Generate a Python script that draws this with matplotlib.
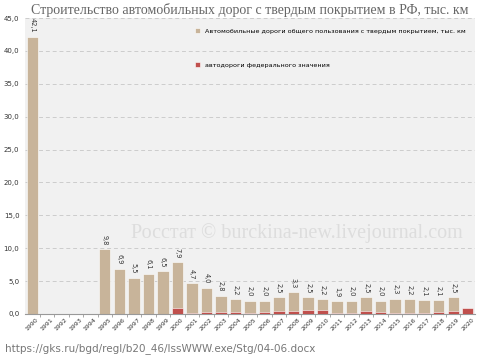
import matplotlib.pyplot as plt
import numpy as np

years = [str(y) for y in range(1990, 2021)]
# total hard-surface public roads built, thousand km (None = no bar)
total_roads = [42.1, None, None, None, None, 9.8, 6.9, 5.5, 6.1, 6.5,
               7.9, 4.7, 4.0, 2.8, 2.2, 2.0, 2.0, 2.5, 3.3, 2.5,
               2.2, 1.9, 2.0, 2.5, 2.0, 2.3, 2.2, 2.1, 2.1, 2.5, None]
# federal roads, thousand km
federal_roads = [0, 0, 0, 0, 0, 0, 0, 0, 0, 0,
                 0.85, 0.15, 0.3, 0.25, 0.3, 0.1, 0.25, 0.45, 0.5, 0.6,
                 0.6, 0.2, 0.2, 0.4, 0.3, 0.15, 0.15, 0.15, 0.25, 0.5, 0.9]
yticks = np.arange(0, 46, 5)

tan = "#c8b49a"
red = "#c0504d"

fig = plt.figure(figsize=(4.95, 3.6), dpi=100)
ax = fig.add_axes([0.0505, 0.128, 0.909, 0.822])
ax.set_facecolor("#f1f1f1")

x = np.arange(len(years))
tot = np.array([v if v is not None else 0 for v in total_roads])
ax.bar(x, tot, width=0.78, color=tan, edgecolor="white", linewidth=0.4,
       label="Автомобильные дороги общего пользования с твердым покрытием, тыс. км", zorder=2)
ax.bar(x, federal_roads, width=0.78, color=red, edgecolor="white", linewidth=0.4,
       label="автодороги федерального значения", zorder=3)

for xi, v in zip(x, total_roads):
    if v is None:
        continue
    ax.text(xi, v + 0.6, f"{v:.1f}".replace(".", ","), rotation=-90,
            ha="center", va="bottom", fontsize=4.8, color="#333333", zorder=4)

ax.set_xlim(-0.5, len(years) - 0.5)
ax.set_ylim(0, 45)
ax.set_yticks(yticks)
ax.set_yticklabels([f"{v:.1f}".replace(".", ",") for v in yticks], fontsize=5, color="#333333")
ax.set_xticks(x)
ax.set_xticklabels(years, rotation=45, fontsize=4.5, color="#333333")
ax.set_xticks(x[:-1] + 0.5, minor=True)
ax.tick_params(axis="x", which="major", length=0, pad=2)
ax.tick_params(axis="x", which="minor", length=2, color="#999999")
ax.tick_params(axis="y", length=0, pad=4)
ax.grid(axis="y", linestyle=(0, (4, 3)), color="#cccccc", linewidth=0.7, zorder=0)
ax.set_axisbelow(True)
for s in ["top", "right", "left"]:
    ax.spines[s].set_visible(False)
ax.spines["bottom"].set_color("#999999")

ax.legend(loc="upper left", bbox_to_anchor=(0.365, 0.985), frameon=False,
          fontsize=4.6, handlelength=0.8, handleheight=0.8, labelspacing=4.4,
          handletextpad=0.7)

fig.text(0.062, 0.972, "Строительство автомобильных дорог с твердым покрытием в РФ, тыс. км",
         family="Liberation Serif", fontsize=10, color="#666666", va="center")
ax.text(0.605, 0.274, "Росстат © burckina-new.livejournal.com", transform=ax.transAxes,
        family="Liberation Serif", fontsize=14.5, color="#dddddd", ha="center", va="center", zorder=1)
fig.text(0.01, 0.025, "https://gks.ru/bgd/regl/b20_46/IssWWW.exe/Stg/04-06.docx",
         fontsize=7.5, color="#777777")

fig.savefig("out.png", dpi=100)
